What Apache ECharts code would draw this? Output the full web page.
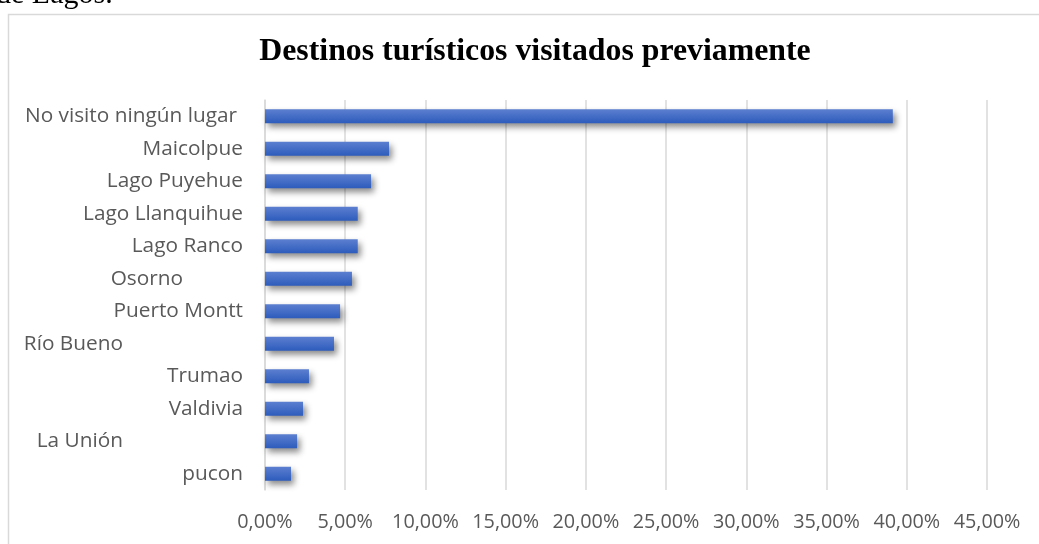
<!DOCTYPE html>
<html>
<head>
<meta charset="utf-8">
<script src="https://cdn.jsdelivr.net/npm/echarts@6/dist/echarts.min.js"></script>
<style>html,body{margin:0;padding:0;background:#fff;}#c{width:1039px;height:544px;}</style>
</head>
<body>
<div id="c"></div>
<script>
var categories = ['No visito ningún lugar', 'Maicolpue', 'Lago Puyehue', 'Lago Llanquihue', 'Lago Ranco', 'Osorno', 'Puerto Montt', 'Río Bueno', 'Trumao', 'Valdivia', 'La Unión', 'pucon'];
var values = [39.13, 7.73, 6.61, 5.78, 5.78, 5.42, 4.68, 4.30, 2.74, 2.37, 2.00, 1.62];
var xTicks = [0, 5, 10, 15, 20, 25, 30, 35, 40, 45];
var titleText = 'Destinos turísticos visitados previamente';
var captionText = 'de Lagos.';

// per-label right padding (reproduces the uneven label alignment of the original)
var padStyle = {
  'No visito ningún lugar': 'a', 'Osorno': 'b', 'Río Bueno': 'c', 'La Unión': 'c'
};

var chart = echarts.init(document.getElementById('c'), null, {renderer: 'canvas'});
var labelFont = '"Open Sans", sans-serif';
var ys = 20.8;
chart.setOption({
  animation: false,
  backgroundColor: '#fff',
  title: {
    text: titleText,
    left: 530, top: 31, textAlign: 'center',
    textStyle: {fontFamily: '"Liberation Serif", "Times New Roman", serif', fontWeight: 'bold', fontSize: 31.8, color: '#000'}
  },
  graphic: [
    {type: 'rect', shape: {x: 8.5, y: 14.5, width: 1200, height: 700}, style: {fill: 'none', stroke: '#d9d9d9', lineWidth: 1.5}, z: -1},
    {type: 'text', left: -4, top: -20, style: {text: captionText, font: '30px "Liberation Serif", serif', fill: '#000'}}
  ],
  grid: {left: 265, right: 52, top: 100, bottom: 54, containLabel: false},
  xAxis: {
    type: 'value', min: 0, max: 45, interval: 5,
    axisLine: {show: false}, axisTick: {show: false},
    splitLine: {show: true, lineStyle: {color: '#d9d9d9', width: 1.5}},
    axisLabel: {
      margin: 22, color: '#595959', fontSize: 19.8, fontFamily: labelFont,
      formatter: function (v) { return xTicks.indexOf(v) >= 0 ? v.toFixed(2).replace('.', ',') + '%' : ''; }
    }
  },
  yAxis: {
    type: 'category', data: categories, inverse: true,
    axisLine: {show: true, lineStyle: {color: '#d9d9d9', width: 1.5}},
    axisTick: {show: false},
    axisLabel: {
      margin: 22, color: '#595959', fontSize: ys, fontFamily: labelFont,
      formatter: function (v) { var s = padStyle[v] || 'n'; return '{' + s + '|' + v + '}'; },
      rich: {
        n: {fontSize: ys, fontFamily: labelFont, color: '#595959'},
        a: {fontSize: ys, fontFamily: labelFont, color: '#595959', padding: [0, 6, 0, 0]},
        b: {fontSize: ys, fontFamily: labelFont, color: '#595959', padding: [0, 60, 0, 0]},
        c: {fontSize: ys, fontFamily: labelFont, color: '#595959', padding: [0, 120, 0, 0]}
      }
    }
  },
  series: [{
    type: 'bar', data: values, barWidth: 14,
    itemStyle: {
      color: new echarts.graphic.LinearGradient(0, 0, 0, 1, [
        {offset: 0, color: '#5c7fd0'}, {offset: 1, color: '#2d5cbc'}
      ]),
      shadowColor: 'rgba(0,0,0,0.45)', shadowBlur: 6, shadowOffsetX: 3, shadowOffsetY: 4
    }
  }]
});
</script>
</body>
</html>
